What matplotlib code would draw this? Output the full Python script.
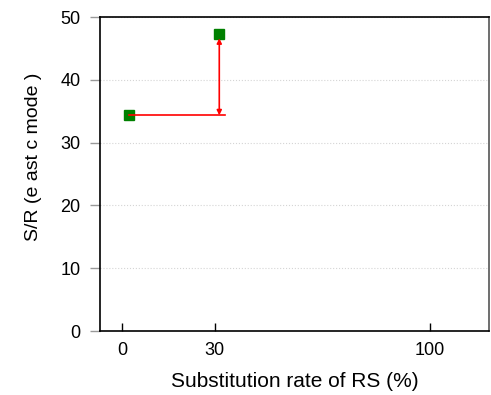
import matplotlib
matplotlib.use('Agg')
import matplotlib.pyplot as plt

# measured S/R values against the RS substitution rate
rate = [2.3, 31.5]
sr = [34.35, 47.25]

# red guide: horizontal level line and the gain arrow
guide_x = [2.3, 33.4]
guide_y = 34.35
arrow_x = 31.5
arrow_from = 34.35
arrow_to = 46.6

xticks = [0, 30, 100]
yticks = [0, 10, 20, 30, 40, 50]

plt.rcParams['font.family'] = ['Liberation Sans', 'DejaVu Sans']

fig = plt.figure(figsize=(4.91, 3.95), dpi=100)
ax = fig.add_axes([100 / 491, 64 / 395, 389 / 491, 314 / 395])

ax.plot(rate, sr, linestyle='none', marker='s', markersize=7,
        color='#008000', zorder=3)
ax.plot(guide_x, [guide_y, guide_y], color='red', lw=1.2, zorder=4)
ax.annotate('', xy=(arrow_x, arrow_to), xytext=(arrow_x, arrow_from),
            arrowprops=dict(arrowstyle='<|-|>', color='red', lw=1.2,
                            mutation_scale=7, shrinkA=0, shrinkB=0),
            zorder=4)

ax.set_xlim(-7.24, 119.1)
ax.set_ylim(0, 50)
ax.set_xticks(xticks)
ax.set_yticks(yticks)
ax.tick_params(axis='x', direction='in', length=6, width=1, colors='black',
               labelsize=13, pad=8)
ax.tick_params(axis='y', direction='out', length=7, width=1, color='#999999',
               labelcolor='black', labelsize=13, pad=7)
ax.yaxis.grid(True, color='#d5d5d5', linestyle=':', lw=0.8)
ax.set_axisbelow(True)

for side in ['left', 'top', 'bottom']:
    ax.spines[side].set_color('black')
    ax.spines[side].set_linewidth(1.2)
ax.spines['right'].set_color('#555555')
ax.spines['right'].set_linewidth(1.2)

ax.set_xlabel('Substitution rate of RS (%)', fontsize=15, labelpad=9)
ax.set_ylabel('S/R (e ast c mode )', fontsize=14)
ax.yaxis.set_label_coords(-0.15, 0.554)

fig.savefig('out.png', dpi=100)
